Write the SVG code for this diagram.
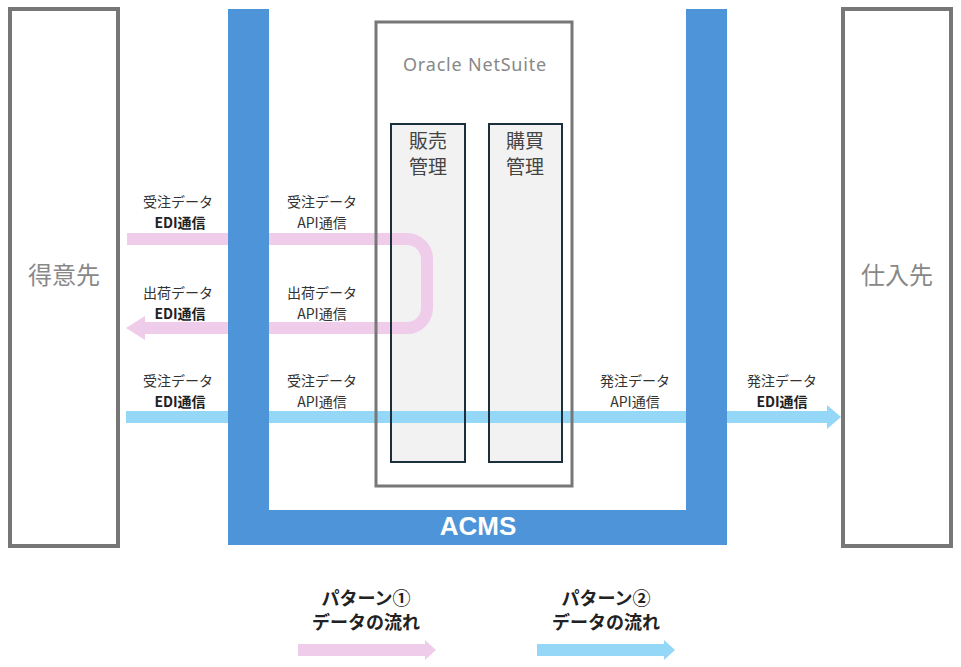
<svg xmlns="http://www.w3.org/2000/svg" width="961" height="667" viewBox="0 0 961 667">
<style>
.ext{fill:#fff;stroke:#777;stroke-width:4}
.extt{font-family:"Noto Sans CJK JP","Noto Sans",sans-serif;font-size:24px;fill:#888;text-anchor:middle}
.lbl{font-family:"Noto Sans CJK JP","Noto Sans",sans-serif;font-size:14px;fill:#333;text-anchor:middle}
.b{font-weight:bold;fill:#222}
.mod{font-family:"Noto Sans CJK JP","Noto Sans",sans-serif;font-size:19px;fill:#444;text-anchor:middle}
.leg{font-family:"Noto Sans CJK JP","Noto Sans",sans-serif;font-size:18px;font-weight:bold;fill:#222;text-anchor:middle}
.acms{fill:#4E94D8}
.pink{fill:none;stroke:#EFCDEA;stroke-width:12}
.sky{fill:none;stroke:#95D7F6;stroke-width:12}
</style>
<rect width="961" height="667" fill="#fff"/>
<g id="tokuisaki"><rect class="ext" x="10" y="9" width="108" height="537"/><text class="extt" x="64" y="284">得意先</text></g>
<g id="shiiresaki"><rect class="ext" x="843" y="9" width="108" height="537"/><text class="extt" x="897" y="284">仕入先</text></g>
<g id="netsuite-fill"><rect x="376" y="22" width="196" height="464" fill="#fff"/><rect x="391" y="124" width="74" height="338" fill="#f2f2f2"/><rect x="489" y="124" width="73" height="338" fill="#f2f2f2"/></g>
<g id="connectors">
<path class="pink" d="M127,239 H407 A20,20 0 0 1 427,259 V308 A20,20 0 0 1 407,328 H144"/>
<polygon points="145,316 126,328 145,340" fill="#EFCDEA"/>
<path class="sky" d="M126,417 H828"/>
<polygon points="827,405 841,417 827,429" fill="#95D7F6"/>
</g>
<g id="netsuite">
<rect x="376" y="22" width="196" height="464" fill="none" stroke="#777" stroke-width="3"/>
<text x="475" y="71" font-family="'Noto Sans','Open Sans',sans-serif" font-size="18" fill="#888" text-anchor="middle" letter-spacing="0.8">Oracle NetSuite</text>
</g>
<g id="hanbai"><rect x="391" y="124" width="74" height="338" fill="none" stroke="#1c2f3c" stroke-width="2"/><text class="mod" x="428" y="148">販売</text><text class="mod" x="428" y="174">管理</text></g>
<g id="koubai"><rect x="489" y="124" width="73" height="338" fill="none" stroke="#1c2f3c" stroke-width="2"/><text class="mod" x="525" y="148">購買</text><text class="mod" x="525" y="174">管理</text></g>
<g id="acms">
<rect class="acms" x="228" y="9" width="41" height="536"/>
<rect class="acms" x="686" y="9" width="41" height="536"/>
<rect class="acms" x="228" y="510" width="499" height="35"/>
<text x="478" y="535" font-family="'Liberation Sans',Arial,sans-serif" font-size="26" font-weight="bold" fill="#fff" text-anchor="middle">ACMS</text>
</g>
<g id="labels">
<text class="lbl" x="178" y="207">受注データ</text><text class="lbl b" x="180" y="228">EDI通信</text>
<text class="lbl" x="322" y="207">受注データ</text><text class="lbl" x="322" y="228">API通信</text>
<text class="lbl" x="178" y="298">出荷データ</text><text class="lbl b" x="180" y="319">EDI通信</text>
<text class="lbl" x="322" y="298">出荷データ</text><text class="lbl" x="322" y="319">API通信</text>
<text class="lbl" x="178" y="386">受注データ</text><text class="lbl b" x="180" y="407">EDI通信</text>
<text class="lbl" x="322" y="386">受注データ</text><text class="lbl" x="322" y="407">API通信</text>
<text class="lbl" x="635" y="386">発注データ</text><text class="lbl" x="635" y="407">API通信</text>
<text class="lbl" x="782" y="386">発注データ</text><text class="lbl b" x="782" y="407">EDI通信</text>
</g>
<g id="legend1">
<text class="leg" x="366" y="605">パターン①</text><text class="leg" x="366" y="629">データの流れ</text>
<path class="pink" d="M298,650 H426"/><polygon points="425,640 436,650 425,660" fill="#EFCDEA"/>
</g>
<g id="legend2">
<text class="leg" x="606" y="605">パターン②</text><text class="leg" x="606" y="629">データの流れ</text>
<path class="sky" d="M537,650 H665"/><polygon points="664,640 675,650 664,660" fill="#95D7F6"/>
</g>
</svg>
